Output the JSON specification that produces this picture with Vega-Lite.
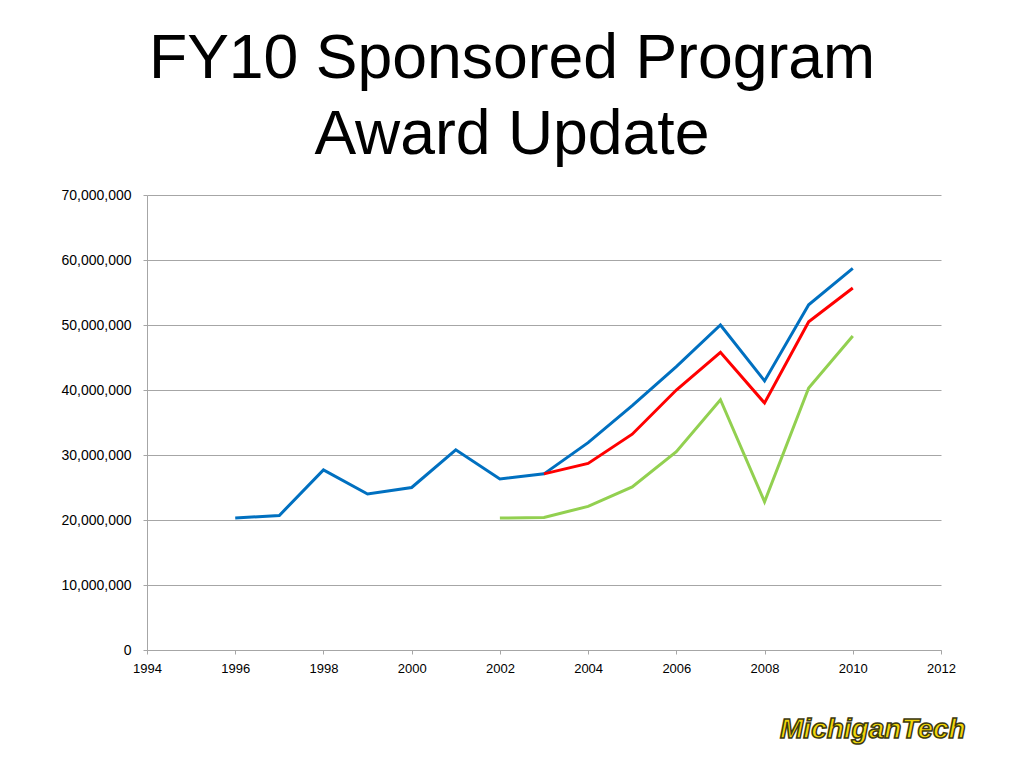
{
  "$schema": "https://vega.github.io/schema/vega-lite/v6.json",
  "width": 794,
  "height": 455,
  "autosize": {"type": "none"},
  "padding": {"left": 147, "top": 195, "right": 83, "bottom": 118},
  "background": "white",
  "title": {
    "text": ["FY10 Sponsored Program", "Award Update"],
    "font": "Liberation Sans",
    "fontSize": 62.5,
    "fontWeight": "normal",
    "color": "black",
    "lineHeight": 76,
    "anchor": "middle",
    "dx": -32,
    "offset": 21
  },
  "config": {
    "view": {"stroke": null},
    "axis": {
      "labelFont": "Liberation Sans",
      "labelFontSize": 13,
      "labelColor": "black",
      "domainColor": "#A6A6A6",
      "tickColor": "#A6A6A6",
      "gridColor": "#A6A6A6",
      "gridWidth": 1,
      "tickSize": 4,
      "labelFlush": false,
      "labelOverlap": false
    }
  },
  "datasets": {
    "awards": [
      {"year": 1996, "series": "Series1", "value": 20300000},
      {"year": 1997, "series": "Series1", "value": 20700000},
      {"year": 1998, "series": "Series1", "value": 27700000},
      {"year": 1999, "series": "Series1", "value": 24000000},
      {"year": 2000, "series": "Series1", "value": 25000000},
      {"year": 2001, "series": "Series1", "value": 30800000},
      {"year": 2002, "series": "Series1", "value": 26300000},
      {"year": 2003, "series": "Series1", "value": 27100000},
      {"year": 2004, "series": "Series1", "value": 31900000},
      {"year": 2005, "series": "Series1", "value": 37600000},
      {"year": 2006, "series": "Series1", "value": 43600000},
      {"year": 2007, "series": "Series1", "value": 50000000},
      {"year": 2008, "series": "Series1", "value": 41400000},
      {"year": 2009, "series": "Series1", "value": 53100000},
      {"year": 2010, "series": "Series1", "value": 58700000},
      {"year": 2003, "series": "Series2", "value": 27100000},
      {"year": 2004, "series": "Series2", "value": 28700000},
      {"year": 2005, "series": "Series2", "value": 33200000},
      {"year": 2006, "series": "Series2", "value": 40000000},
      {"year": 2007, "series": "Series2", "value": 45800000},
      {"year": 2008, "series": "Series2", "value": 38000000},
      {"year": 2009, "series": "Series2", "value": 50500000},
      {"year": 2010, "series": "Series2", "value": 55700000},
      {"year": 2002, "series": "Series3", "value": 20300000},
      {"year": 2003, "series": "Series3", "value": 20400000},
      {"year": 2004, "series": "Series3", "value": 22100000},
      {"year": 2005, "series": "Series3", "value": 25100000},
      {"year": 2006, "series": "Series3", "value": 30500000},
      {"year": 2007, "series": "Series3", "value": 38500000},
      {"year": 2008, "series": "Series3", "value": 22800000},
      {"year": 2009, "series": "Series3", "value": 40300000},
      {"year": 2010, "series": "Series3", "value": 48300000}
    ],
    "logo": [
      {"label": "MichiganTech", "year": 2012.56, "value": -13600000}
    ]
  },
  "layer": [
    {
      "data": {"name": "awards"},
      "mark": {"type": "line", "strokeWidth": 3, "strokeJoin": "miter"},
      "encoding": {
        "x": {
          "field": "year",
          "type": "quantitative",
          "scale": {"domain": [1994, 2012], "nice": false, "zero": false},
          "axis": {"values": [1994, 1996, 1998, 2000, 2002, 2004, 2006, 2008, 2010, 2012], "format": "d", "grid": false, "labelPadding": 8, "title": null}
        },
        "y": {
          "field": "value",
          "type": "quantitative",
          "scale": {"domain": [0, 70000000], "nice": false},
          "axis": {"values": [0, 10000000, 20000000, 30000000, 40000000, 50000000, 60000000, 70000000], "format": ",d", "grid": true, "labelPadding": 12, "labelFontSize": 14, "title": null}
        },
        "color": {
          "field": "series",
          "type": "nominal",
          "scale": {"domain": ["Series1", "Series2", "Series3"], "range": ["#0070C0", "#FF0000", "#92D050"]},
          "legend": null
        },
        "order": {"field": "year", "type": "quantitative"}
      }
    },
    {
      "data": {"name": "logo"},
      "mark": {
        "type": "text",
        "align": "right",
        "baseline": "alphabetic",
        "font": "Liberation Sans",
        "fontSize": 28,
        "fontWeight": "bold",
        "fontStyle": "italic",
        "fill": "#F4D80A",
        "stroke": "#3D3A10",
        "strokeWidth": 1.5,
        "clip": false
      },
      "encoding": {
        "x": {"field": "year", "type": "quantitative"},
        "y": {"field": "value", "type": "quantitative"},
        "text": {"field": "label"}
      }
    }
  ]
}
